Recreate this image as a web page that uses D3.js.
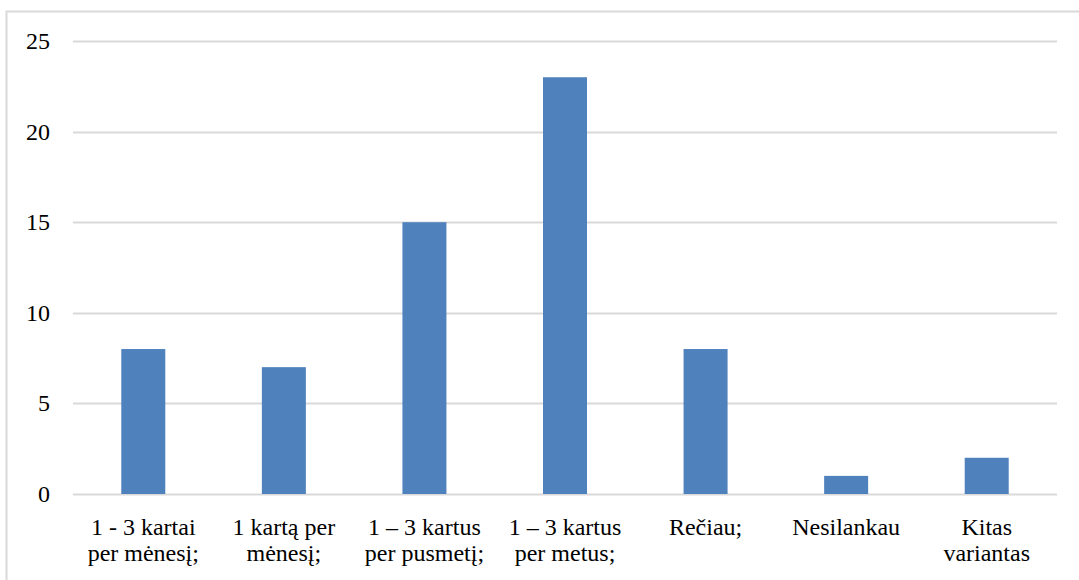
<!DOCTYPE html>
<html><head><meta charset="utf-8">
<script src="https://cdn.jsdelivr.net/npm/d3@7"></script>
</head><body style="margin:0;overflow:hidden">
<svg id="chart" width="1079" height="580" style="display:block"></svg>
<script>
const categories = [
  ["1 - 3 kartai", "per mėnesį;"],
  ["1 kartą per", "mėnesį;"],
  ["1 – 3 kartus", "per pusmetį;"],
  ["1 – 3 kartus", "per metus;"],
  ["Rečiau;"],
  ["Nesilankau"],
  ["Kitas", "variantas"]
];
const values = [8, 7, 15, 23, 8, 1, 2];
const yTicks = [0, 5, 10, 15, 20, 25];

const svg = d3.select("#chart");
const serifName = "Times New Roman";

svg.append("rect").attr("x", 6.5).attr("y", 11.5).attr("width", 1100).attr("height", 600)
  .attr("fill", "#fff").attr("stroke", "#d9d9d9").attr("stroke-width", 2);

const pLeft = 73, pRight = 1057, pTop = 41, pBottom = 494;
const x = d3.scaleBand().domain(categories.map((c, i) => i)).range([pLeft, pRight])
  .paddingInner(0.687).paddingOuter(0.3435);
const y = d3.scaleLinear().domain([0, 25]).range([pBottom, pTop]);

svg.append("g").selectAll("line").data(yTicks).join("line")
  .attr("x1", pLeft).attr("x2", pRight)
  .attr("y1", d => Math.round(y(d)) + 0.5).attr("y2", d => Math.round(y(d)) + 0.5)
  .attr("stroke", "#d9d9d9").attr("stroke-width", 2);

svg.append("g").selectAll("rect").data(values).join("rect")
  .attr("x", (d, i) => x(i)).attr("width", x.bandwidth())
  .attr("y", d => y(d)).attr("height", d => y(0) - y(d))
  .attr("fill", "#4f81bd");

svg.selectAll("text.yl").data(yTicks).join("text").attr("class", "yl")
  .attr("x", 50).attr("y", d => y(d) + 8)
  .attr("text-anchor", "end")
  .style("font-family", `"${serifName}"`).style("font-size", "24px")
  .text(d => d);

const lines = [];
categories.forEach((c, i) => c.forEach((t, j) => lines.push({ t, i, j })));
svg.selectAll("text.xl").data(lines).join("text").attr("class", "xl")
  .attr("x", d => x(d.i) + x.bandwidth() / 2).attr("y", d => 535 + d.j * 26)
  .attr("text-anchor", "middle")
  .style("font-family", `"${serifName}"`).style("font-size", "24px")
  .text(d => d.t);
</script>
</body></html>
